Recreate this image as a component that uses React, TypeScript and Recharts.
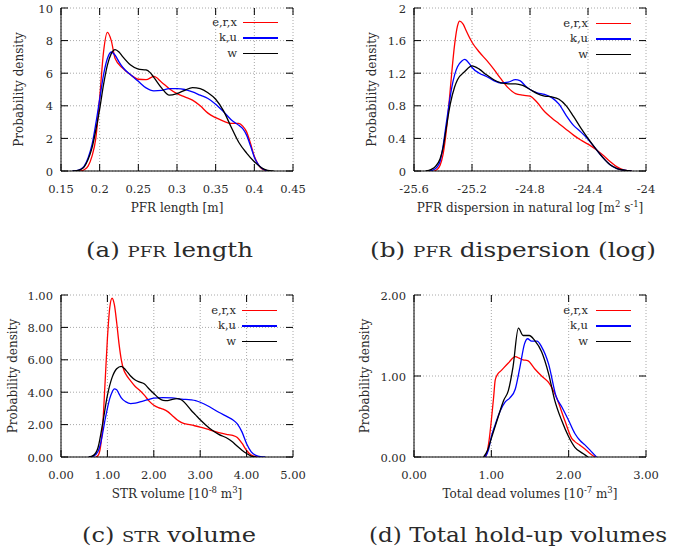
import React, { useLayoutEffect, useRef, useState } from 'react';
import { LineChart, Line, XAxis, YAxis, CartesianGrid, Legend } from 'recharts';

// (a) PFR length [m]
const lengthErx = [
  [0.17, 0], [0.175, 0.01], [0.18, 0.08], [0.185, 0.3], [0.19, 0.9], [0.195, 2.0], [0.2, 4.5],
  [0.205, 7.3], [0.21, 8.5], [0.215, 8.0], [0.22, 6.9], [0.23, 6.3], [0.24, 5.9], [0.25, 5.63],
  [0.26, 5.6], [0.27, 5.8], [0.28, 5.45], [0.29, 5.05], [0.3, 4.75], [0.31, 4.55], [0.32, 4.35],
  [0.33, 4.0], [0.34, 3.55], [0.35, 3.27], [0.36, 3.06], [0.37, 2.92], [0.38, 2.92], [0.385, 2.75],
  [0.39, 2.4], [0.395, 1.7], [0.4, 0.9], [0.405, 0.4], [0.41, 0.12], [0.415, 0.03], [0.42, 0],
];
const lengthKu = [
  [0.165, 0], [0.17, 0.02], [0.175, 0.1], [0.18, 0.3], [0.185, 0.8], [0.19, 1.6], [0.195, 2.9],
  [0.2, 4.4], [0.205, 5.9], [0.21, 6.9], [0.215, 7.3], [0.22, 7.1], [0.225, 6.7], [0.23, 6.35],
  [0.24, 5.9], [0.25, 5.5], [0.26, 5.1], [0.27, 4.92], [0.28, 4.95], [0.29, 5.05], [0.3, 5.05],
  [0.31, 5.0], [0.32, 4.85], [0.33, 4.65], [0.34, 4.45], [0.35, 4.1], [0.36, 3.65], [0.37, 3.15],
  [0.38, 2.8], [0.385, 2.6], [0.39, 2.2], [0.395, 1.55], [0.4, 0.85], [0.405, 0.4], [0.41, 0.15],
  [0.415, 0.04], [0.42, 0],
];
const lengthW = [
  [0.165, 0], [0.17, 0.02], [0.175, 0.08], [0.18, 0.25], [0.185, 0.7], [0.19, 1.4], [0.195, 2.5],
  [0.2, 3.8], [0.205, 5.3], [0.21, 6.5], [0.215, 7.2], [0.22, 7.45], [0.225, 7.3], [0.23, 7.0],
  [0.24, 6.5], [0.25, 6.25], [0.26, 6.2], [0.265, 6.05], [0.27, 5.75], [0.28, 5.1], [0.29, 4.65],
  [0.3, 4.75], [0.31, 4.95], [0.32, 5.12], [0.33, 5.05], [0.34, 4.8], [0.35, 4.4], [0.36, 3.7],
  [0.37, 2.7], [0.38, 1.75], [0.39, 1.1], [0.4, 0.57], [0.41, 0.18], [0.415, 0.07], [0.42, 0.02],
  [0.425, 0],
];

// (b) PFR dispersion (natural log)
const dispErx = [
  [-25.46, 0], [-25.44, 0.02], [-25.42, 0.07], [-25.4, 0.2], [-25.38, 0.45], [-25.36, 0.8],
  [-25.34, 1.2], [-25.32, 1.55], [-25.3, 1.78], [-25.285, 1.84], [-25.26, 1.8], [-25.24, 1.72],
  [-25.2, 1.58], [-25.15, 1.46], [-25.1, 1.36], [-25.05, 1.25], [-25.0, 1.13], [-24.95, 1.02],
  [-24.9, 0.95], [-24.85, 0.93], [-24.8, 0.92], [-24.75, 0.84], [-24.7, 0.73], [-24.65, 0.65],
  [-24.6, 0.58], [-24.55, 0.51], [-24.5, 0.44], [-24.45, 0.38], [-24.4, 0.33], [-24.35, 0.27],
  [-24.3, 0.2], [-24.25, 0.12], [-24.2, 0.05], [-24.15, 0.01], [-24.1, 0],
];
const dispKu = [
  [-25.5, 0], [-25.47, 0.01], [-25.44, 0.05], [-25.42, 0.12], [-25.4, 0.3], [-25.38, 0.55],
  [-25.36, 0.8], [-25.34, 1.02], [-25.32, 1.18], [-25.3, 1.28], [-25.27, 1.35], [-25.25, 1.37],
  [-25.22, 1.32], [-25.2, 1.27], [-25.15, 1.2], [-25.1, 1.16], [-25.05, 1.11], [-25.0, 1.08],
  [-24.95, 1.09], [-24.9, 1.12], [-24.87, 1.11], [-24.83, 1.04], [-24.8, 1.0], [-24.75, 0.96],
  [-24.7, 0.94], [-24.65, 0.9], [-24.6, 0.82], [-24.55, 0.68], [-24.5, 0.56], [-24.45, 0.48],
  [-24.4, 0.39], [-24.35, 0.28], [-24.3, 0.17], [-24.25, 0.08], [-24.2, 0.03], [-24.15, 0.01],
  [-24.1, 0],
];
const dispW = [
  [-25.52, 0], [-25.48, 0.02], [-25.45, 0.06], [-25.42, 0.15], [-25.4, 0.28], [-25.38, 0.5],
  [-25.35, 0.82], [-25.32, 1.03], [-25.3, 1.12], [-25.25, 1.22], [-25.2, 1.29], [-25.15, 1.25],
  [-25.1, 1.18], [-25.05, 1.12], [-25.0, 1.08], [-24.95, 1.07], [-24.9, 1.07], [-24.85, 1.05],
  [-24.8, 1.0], [-24.75, 0.95], [-24.7, 0.92], [-24.65, 0.91], [-24.6, 0.88], [-24.55, 0.8],
  [-24.5, 0.67], [-24.45, 0.53], [-24.4, 0.4], [-24.35, 0.28], [-24.3, 0.17], [-24.25, 0.08],
  [-24.2, 0.03], [-24.15, 0.01], [-24.1, 0],
];

// (c) STR volume [1e-8 m3]
const strErx = [
  [0.75, 0], [0.8, 0.1], [0.85, 0.6], [0.9, 2.0], [0.95, 4.6], [1.0, 7.3], [1.05, 9.2], [1.1, 9.8],
  [1.15, 9.4], [1.2, 8.3], [1.25, 7.0], [1.3, 6.0], [1.35, 5.4], [1.4, 5.1], [1.5, 4.7], [1.6, 4.35],
  [1.7, 4.1], [1.8, 3.8], [1.9, 3.45], [2.0, 3.2], [2.1, 3.05], [2.2, 2.95], [2.3, 2.8], [2.4, 2.55],
  [2.5, 2.3], [2.6, 2.12], [2.8, 1.98], [3.0, 1.85], [3.2, 1.68], [3.4, 1.5], [3.6, 1.38],
  [3.7, 1.33], [3.8, 1.2], [3.9, 0.85], [4.0, 0.4], [4.1, 0.12], [4.2, 0.02], [4.25, 0],
];
const strKu = [
  [0.6, 0], [0.7, 0.05], [0.8, 0.35], [0.85, 0.8], [0.9, 1.5], [0.95, 2.3], [1.0, 3.0], [1.05, 3.6],
  [1.1, 4.0], [1.15, 4.2], [1.2, 4.15], [1.25, 3.9], [1.3, 3.65], [1.4, 3.4], [1.5, 3.3], [1.6, 3.32],
  [1.7, 3.4], [1.8, 3.48], [1.9, 3.56], [2.0, 3.64], [2.2, 3.67], [2.4, 3.65], [2.6, 3.57],
  [2.8, 3.53], [2.9, 3.48], [3.0, 3.38], [3.2, 3.1], [3.4, 2.76], [3.6, 2.46], [3.7, 2.3],
  [3.8, 2.05], [3.9, 1.55], [4.0, 0.82], [4.1, 0.32], [4.2, 0.1], [4.3, 0.02], [4.4, 0],
];
const strW = [
  [0.6, 0], [0.7, 0.1], [0.8, 0.6], [0.9, 2.1], [1.0, 3.8], [1.1, 4.9], [1.2, 5.45], [1.3, 5.6],
  [1.4, 5.35], [1.5, 5.0], [1.6, 4.75], [1.7, 4.62], [1.8, 4.5], [1.9, 4.2], [2.0, 3.92], [2.1, 3.65],
  [2.2, 3.5], [2.3, 3.48], [2.4, 3.56], [2.5, 3.6], [2.6, 3.52], [2.7, 3.25], [2.8, 2.9], [2.9, 2.6],
  [3.0, 2.3], [3.2, 1.78], [3.4, 1.4], [3.6, 1.13], [3.7, 0.92], [3.8, 0.66], [3.9, 0.42],
  [4.0, 0.22], [4.1, 0.06], [4.2, 0],
];

// (d) Total dead volumes [1e-7 m3]
const deadErx = [
  [0.92, 0], [0.94, 0.04], [0.97, 0.2], [1.0, 0.45], [1.03, 0.74], [1.05, 0.95], [1.08, 1.02],
  [1.13, 1.07], [1.22, 1.16], [1.31, 1.24], [1.36, 1.22], [1.41, 1.2], [1.47, 1.19], [1.56, 1.09],
  [1.65, 1.0], [1.74, 0.92], [1.84, 0.74], [1.95, 0.45], [2.04, 0.23], [2.08, 0.19], [2.14, 0.15],
  [2.21, 0.1], [2.28, 0.04], [2.34, 0],
];
const deadKu = [
  [0.92, 0], [0.96, 0.08], [1.0, 0.25], [1.05, 0.4], [1.11, 0.56], [1.18, 0.68], [1.24, 0.73],
  [1.31, 0.84], [1.37, 1.11], [1.43, 1.4], [1.47, 1.46], [1.52, 1.43], [1.59, 1.43], [1.65, 1.36],
  [1.74, 1.15], [1.84, 0.74], [1.91, 0.62], [2.0, 0.45], [2.08, 0.29], [2.15, 0.2], [2.21, 0.15],
  [2.3, 0.06], [2.36, 0],
];
const deadW = [
  [0.9, 0], [0.95, 0.08], [1.0, 0.23], [1.09, 0.5], [1.16, 0.7], [1.22, 0.82], [1.28, 1.11],
  [1.35, 1.59], [1.41, 1.5], [1.49, 1.5], [1.56, 1.44], [1.65, 1.3], [1.74, 1.03], [1.82, 0.7],
  [1.91, 0.45], [2.0, 0.25], [2.08, 0.12], [2.19, 0.04], [2.25, 0],
];

const seriesNames = ['e,r,x', 'k,u', 'w'];
const seriesColors = ['#ff0000', '#0000ff', '#000000'];

const lengthXTicks = [0.15, 0.2, 0.25, 0.3, 0.35, 0.4, 0.45];
const lengthYTicks = [0, 2, 4, 6, 8, 10];
const dispXTicks = [-25.6, -25.2, -24.8, -24.4, -24];
const dispYTicks = [0, 0.4, 0.8, 1.2, 1.6, 2];
const strXTicks = [0, 1, 2, 3, 4, 5];
const strYTicks = [0, 2, 4, 6, 8, 10];
const strYLabels = ['0.00', '2.00', '4.00', '6.00', '8.00', '1.00'];
const deadXTicks = [0, 1, 2, 3];
const deadYTicks = [0, 1, 2];

// axis titles: [text, isSuperscript]
const lengthTitle: [string, boolean][] = [['PFR length [m]', false]];
const dispTitle: [string, boolean][] = [
  ['PFR dispersion in natural log [m', false], ['2', true], [' s', false], ['-1', true], [']', false],
];
const strTitle: [string, boolean][] = [['STR volume [10', false], ['-8', true], [' m', false], ['3', true], [']', false]];
const deadTitle: [string, boolean][] = [
  ['Total dead volumes [10', false], ['-7', true], [' m', false], ['3', true], [']', false],
];

const FONT = "'DejaVu Serif', serif";

const toPts = (arr: number[][]) => arr.map(([x, y]) => ({ x, y }));

type PanelProps = {
  left: number;
  top: number;
  width: number;
  height: number;
  yW: number;
  mTop: number;
  mRight: number;
  xH: number;
  xDomain: [number, number];
  xTicks: number[];
  yDomain: [number, number];
  yTicks: number[];
  fmtX: (v: number) => string;
  fmtY: (v: number) => string;
  series: number[][][];
  xTitle: [string, boolean][];
  yLabelX: number;
  legendLeft: number;
  legendTop: number;
  legendGap: number;
};

function Panel(p: PanelProps) {
  const plotTop = p.mTop;
  const plotBottom = p.height - p.xH;
  const plotLeft = p.yW;
  const plotRight = p.width - p.mRight;

  const XTick = (props: any) => {
    const { x, payload } = props;
    const ay = plotBottom;
    return (
      <g>
        <line x1={x} x2={x} y1={ay} y2={ay - 7} stroke="#000" strokeWidth={1} />
        <line x1={x} x2={x} y1={plotTop} y2={plotTop + 7} stroke="#000" strokeWidth={1} />
        <text x={x} y={ay + 22} textAnchor="middle" style={{ fontFamily: FONT }} fontSize={11.5} fill="#2a2a2a">
          {p.fmtX(payload.value)}
        </text>
      </g>
    );
  };

  const YTick = (props: any) => {
    const { y, payload } = props;
    const ax = plotLeft;
    return (
      <g>
        <line x1={ax} x2={ax + 7} y1={y} y2={y} stroke="#000" strokeWidth={1} />
        <line x1={plotRight - 7} x2={plotRight} y1={y} y2={y} stroke="#000" strokeWidth={1} />
        <text x={ax - 8} y={y + 4.5} textAnchor="end" style={{ fontFamily: FONT }} fontSize={11.5} fill="#2a2a2a">
          {p.fmtY(payload.value)}
        </text>
      </g>
    );
  };

  const cy = (plotTop + plotBottom) / 2;
  const cx = (plotLeft + plotRight) / 2;

  const legendContent = () => (
    <div style={{ fontFamily: FONT, fontSize: 11.5, color: '#2a2a2a' }}>
      {seriesNames.map((n, i) => (
        <div key={n} style={{ display: 'flex', alignItems: 'center', height: 15.3 }}>
          <span style={{ width: 60, textAlign: 'right', lineHeight: '15px' }}>{n}</span>
          <span style={{ width: p.legendGap }} />
          <span style={{ width: 35, height: 1.3, background: seriesColors[i] }} />
        </div>
      ))}
    </div>
  );

  return (
    <div style={{ position: 'absolute', left: p.left, top: p.top }}>
      <LineChart
        width={p.width}
        height={p.height}
        margin={{ top: p.mTop, right: p.mRight, left: 0, bottom: 0 }}
      >
        <CartesianGrid stroke="#a8a8a8" strokeDasharray="1 2" strokeWidth={1} />
        <XAxis
          type="number"
          dataKey="x"
          domain={p.xDomain}
          ticks={p.xTicks}
          interval={0}
          allowDataOverflow
          height={p.xH}
          tickLine={false}
          tickSize={4}
          tick={XTick}
          axisLine={{ stroke: '#000', strokeWidth: 1 }}
          label={() => {
            let prevSup = false;
            return (
              <text x={cx} y={plotBottom + 41} textAnchor="middle" style={{ fontFamily: FONT }} fontSize={12} fill="#2a2a2a">
                {p.xTitle.map(([t, sup], i) => {
                  const dy = sup ? -5 : prevSup ? 5 : 0;
                  prevSup = sup;
                  return (
                    <tspan key={i} dy={dy} fontSize={sup ? 8.5 : 12}>
                      {t}
                    </tspan>
                  );
                })}
              </text>
            );
          }}
        />
        <YAxis
          type="number"
          domain={p.yDomain}
          ticks={p.yTicks}
          interval={0}
          allowDataOverflow
          width={p.yW}
          tickLine={false}
          tickSize={4}
          tick={YTick}
          axisLine={{ stroke: '#000', strokeWidth: 1 }}
          label={() => (
            <text
              x={p.yLabelX}
              y={cy}
              transform={`rotate(-90 ${p.yLabelX} ${cy})`}
              textAnchor="middle"
              dominantBaseline="central"
              style={{ fontFamily: FONT }}
              fontSize={12}
              fill="#2a2a2a"
            >
              Probability density
            </text>
          )}
        />
        <Legend
          layout="vertical"
          align="center"
          verticalAlign="middle"
          wrapperStyle={{ left: p.legendLeft, top: p.legendTop, width: 110 }}
          content={legendContent}
        />
        {p.series.map((s, i) => (
          <Line
            key={seriesNames[i]}
            name={seriesNames[i]}
            data={toPts(s)}
            dataKey="y"
            type="monotone"
            stroke={seriesColors[i]}
            strokeWidth={1.3}
            dot={false}
            activeDot={false}
            isAnimationActive={false}
          />
        ))}
      </LineChart>
    </div>
  );
}

// caption stretched to the reference width (left edge x, baseline y, target width w)
function Caption({ x, y, w, children }: { x: number; y: number; w: number; children: React.ReactNode }) {
  const ref = useRef<HTMLSpanElement>(null);
  const [k, setK] = useState(1);
  useLayoutEffect(() => {
    if (ref.current) {
      const nat = ref.current.getBoundingClientRect().width;
      if (nat > 0) setK(w / nat);
    }
  }, [w]);
  return (
    <div style={{ position: 'absolute', left: x, top: y - 21, height: 28, lineHeight: '28px' }}>
      <span
        ref={ref}
        style={{
          display: 'inline-block',
          whiteSpace: 'nowrap',
          fontFamily: FONT,
          fontSize: 21,
          color: '#2a2a2a',
          transform: `scaleX(${k})`,
          transformOrigin: 'left center',
        }}
      >
        {children}
      </span>
    </div>
  );
}

const Sc = ({ children }: { children: React.ReactNode }) => <span style={{ fontSize: 15.5 }}>{children}</span>;

export default function App() {
  return (
    <div style={{ position: 'absolute', left: 0, top: 0, width: 673, height: 557, background: '#fff' }}>
      <Panel
        left={0} top={0} width={313} height={220} yW={61} mTop={8} mRight={20} xH={49}
        xDomain={[0.15, 0.45]} xTicks={lengthXTicks} yDomain={[0, 10]} yTicks={lengthYTicks}
        fmtX={(v) => String(v)} fmtY={(v) => String(v)}
        series={[lengthErx, lengthKu, lengthW]}
        xTitle={lengthTitle}
        yLabelX={19} legendLeft={177} legendTop={15} legendGap={6}
      />
      <Panel
        left={336} top={0} width={330} height={220} yW={78} mTop={8} mRight={20} xH={49}
        xDomain={[-25.6, -24]} xTicks={dispXTicks} yDomain={[0, 2]} yTicks={dispYTicks}
        fmtX={(v) => String(v)} fmtY={(v) => String(v)}
        series={[dispErx, dispKu, dispW]}
        xTitle={dispTitle}
        yLabelX={36} legendLeft={192} legendTop={16} legendGap={8}
      />
      <Panel
        left={0} top={280} width={313} height={226} yW={61} mTop={15} mRight={20} xH={49}
        xDomain={[0, 5]} xTicks={strXTicks} yDomain={[0, 10]} yTicks={strYTicks}
        fmtX={(v) => v.toFixed(2)} fmtY={(v) => strYLabels[strYTicks.indexOf(v)]}
        series={[strErx, strKu, strW]}
        xTitle={strTitle}
        yLabelX={13} legendLeft={176} legendTop={23} legendGap={6}
      />
      <Panel
        left={336} top={280} width={330} height={226} yW={78} mTop={15} mRight={20} xH={49}
        xDomain={[0, 3]} xTicks={deadXTicks} yDomain={[0, 2]} yTicks={deadYTicks}
        fmtX={(v) => v.toFixed(2)} fmtY={(v) => v.toFixed(2)}
        series={[deadErx, deadKu, deadW]}
        xTitle={deadTitle}
        yLabelX={29} legendLeft={192} legendTop={23} legendGap={8}
      />
      <Caption x={86} y={257} w={167}>(a) <Sc>PFR</Sc> length</Caption>
      <Caption x={370} y={257} w={286}>(b) <Sc>PFR</Sc> dispersion (log)</Caption>
      <Caption x={82} y={542} w={174}>(c) <Sc>STR</Sc> volume</Caption>
      <Caption x={369} y={542} w={298}>(d) Total hold-up volumes</Caption>
    </div>
  );
}
